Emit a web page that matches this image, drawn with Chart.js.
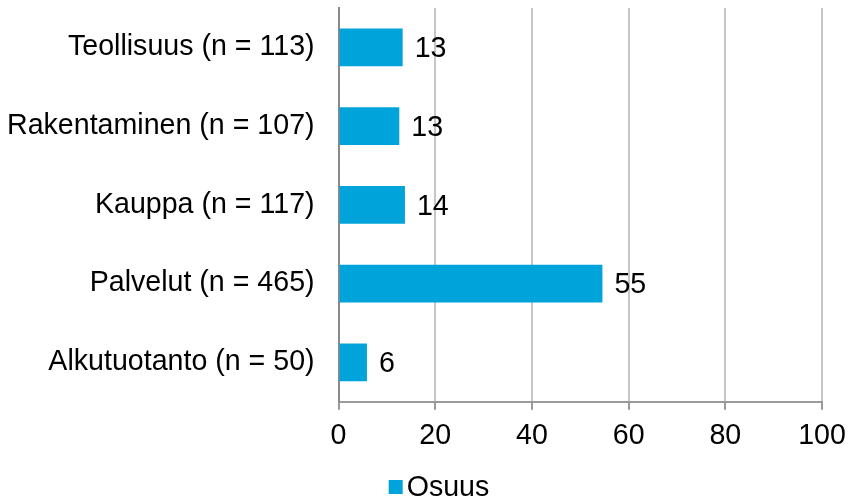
<!DOCTYPE html>
<html>
<head>
<meta charset="utf-8">
<script src="https://cdn.jsdelivr.net/npm/chart.js@4"></script>
<style>
html,body{margin:0;padding:0;background:#fff;}
#wrap{width:850px;height:502px;position:relative;}
</style>
</head>
<body>
<div id="wrap"><canvas id="c" width="850" height="502"></canvas></div>
<script>
const categories = ["Teollisuus (n = 113)", "Rakentaminen (n = 107)", "Kauppa (n = 117)", "Palvelut (n = 465)", "Alkutuotanto (n = 50)"];
const osuus = [13.26, 12.56, 13.73, 54.58, 5.87];
const seriesName = "Osuus";
const xTicks = [0, 20, 40, 60, 80, 100];

const FONT = "'Liberation Sans', Arial, sans-serif";
const FS = 28.6;
const BAR_COLOR = '#00A3DA';
Chart.defaults.font.family = FONT;
Chart.defaults.color = '#000';

const valueLabels = {
  id: 'valueLabels',
  afterDatasetsDraw(chart) {
    const ctx = chart.ctx;
    const meta = chart.getDatasetMeta(0);
    ctx.save();
    ctx.font = FS + "px " + FONT;
    ctx.fillStyle = '#000';
    ctx.textAlign = 'left';
    ctx.textBaseline = 'middle';
    meta.data.forEach((bar, i) => {
      ctx.fillText(String(Math.round(osuus[i])), bar.x + 12, bar.y + 2);
    });
    ctx.restore();
  }
};

const bottomLegend = {
  id: 'bottomLegend',
  afterDraw(chart) {
    const ctx = chart.ctx;
    ctx.save();
    ctx.font = FS + "px " + FONT;
    const tw = ctx.measureText(seriesName).width;
    const box = 14, gap = 4;
    const total = box + gap + tw;
    const cx = chart.width / 2 + 14;
    const x0 = cx - total / 2;
    const cy = chart.height - 15;
    ctx.fillStyle = BAR_COLOR;
    ctx.fillRect(x0, cy - box / 2, box, box);
    ctx.fillStyle = '#000';
    ctx.textAlign = 'left';
    ctx.textBaseline = 'middle';
    ctx.fillText(seriesName, x0 + box + gap, cy + 1);
    ctx.restore();
  }
};

new Chart(document.getElementById('c'), {
  type: 'bar',
  data: {
    labels: categories,
    datasets: [{
      label: seriesName,
      data: osuus,
      backgroundColor: BAR_COLOR,
      borderWidth: 0,
      barPercentage: 0.48,
      categoryPercentage: 1.0
    }]
  },
  options: {
    indexAxis: 'y',
    responsive: false,
    animation: false,
    layout: { padding: { top: 8, right: 0, left: 5, bottom: 40 } },
    plugins: {
      legend: { display: false },
      tooltip: { enabled: false }
    },
    scales: {
      x: {
        min: 0, max: 100,
        afterBuildTicks(scale) { scale.ticks = xTicks.map(v => ({ value: v })); },
        afterFit(scale) { scale.paddingRight = 28; },
        grid: {
          color: '#c6c6c6',
          tickColor: '#9a9a9a',
          tickLength: 8,
          lineWidth: 2
        },
        border: { color: '#9a9a9a', width: 2 },
        ticks: { font: { size: FS }, padding: 9, color: '#000' }
      },
      y: {
        grid: {
          display: true,
          drawOnChartArea: false,
          drawTicks: true,
          tickLength: 22,
          color: 'rgba(0,0,0,0)',
          tickColor: 'rgba(0,0,0,0)'
        },
        border: { display: true, color: '#8a8a8a', width: 2 },
        ticks: { font: { size: FS, lineHeight: 0.4 }, padding: 2, color: '#000' }
      }
    }
  },
  plugins: [valueLabels, bottomLegend]
});
</script>
</body>
</html>
